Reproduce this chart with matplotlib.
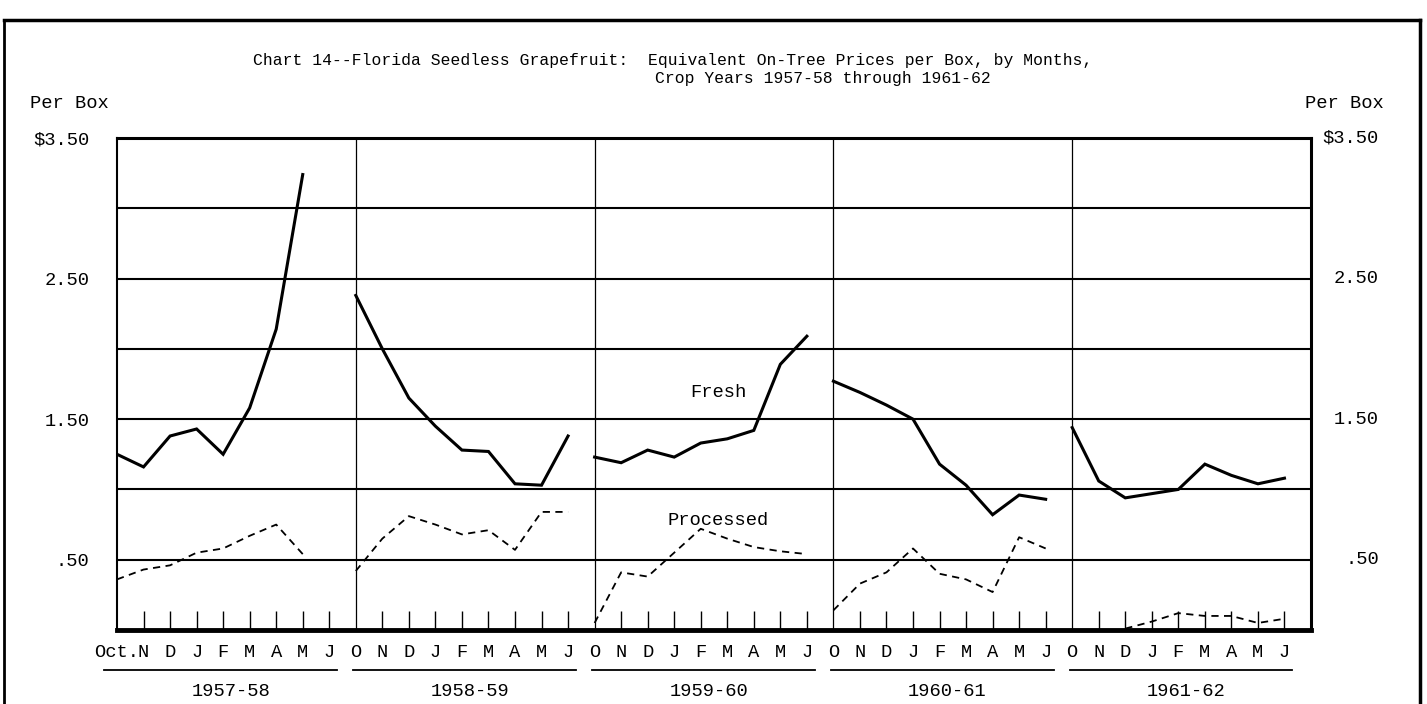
import numpy as np
import matplotlib
matplotlib.use("Agg")
import matplotlib.pyplot as plt
from matplotlib.lines import Line2D

# ==============================
# DATA
# ==============================

crop_years = ["1957-58", "1958-59", "1959-60", "1960-61", "1961-62"]

months = ["O", "N", "D", "J", "F", "M", "A", "M", "J"]

nan = np.nan

# Fresh, dollars per box, Oct..Jun
fresh_5758 = [1.25, 1.16, 1.38, 1.43, 1.25, 1.58, 2.14, 3.24, nan]
fresh_5859 = [2.38, 2.00, 1.65, 1.45, 1.28, 1.27, 1.04, 1.03, 1.38]
fresh_5960 = [1.23, 1.19, 1.28, 1.23, 1.33, 1.36, 1.42, 1.89, 2.09]
fresh_6061 = [1.77, 1.69, 1.60, 1.50, 1.18, 1.03, 0.82, 0.96, 0.93]
fresh_6162 = [1.44, 1.06, 0.94, 0.97, 1.00, 1.18, 1.10, 1.04, 1.08]

# Processed, dollars per box, Oct..Jun
processed_5758 = [0.36, 0.43, 0.46, 0.55, 0.58, 0.67, 0.75, 0.54, nan]
processed_5859 = [0.42, 0.65, 0.81, 0.75, 0.68, 0.71, 0.57, 0.84, 0.84]
processed_5960 = [0.05, 0.41, 0.38, 0.55, 0.72, 0.65, 0.59, 0.56, 0.54]
processed_6061 = [0.14, 0.33, 0.41, 0.58, 0.40, 0.36, 0.27, 0.66, 0.58]
processed_6162 = [nan, nan, 0.01, 0.06, 0.12, 0.10, 0.10, 0.05, 0.08]

fresh = [fresh_5758, fresh_5859, fresh_5960, fresh_6061, fresh_6162]
processed = [processed_5758, processed_5859, processed_5960,
             processed_6061, processed_6162]

y_ticks = [0.5, 1.5, 2.5, 3.5]
y_tick_labels = [".50", "1.50", "2.50", "$3.50"]

# ==============================
# FIGURE
# ==============================

FONT = "Liberation Mono"
plt.rcParams["font.family"] = [FONT, "DejaVu Sans Mono"]

fig = plt.figure(figsize=(14.27, 7.04), dpi=100)
ax = fig.add_axes([117 / 1427, 74 / 704, 1194 / 1427, 492 / 704])

n_months = len(months)
n_years = len(crop_years)

# ==============================
# LINES
# ==============================

for p in range(n_years):

    x = np.arange(n_months) + p * n_months

    ax.plot(x, fresh[p], color="black", lw=2.2,
            solid_joinstyle="miter", zorder=4)

    ax.plot(x, processed[p], color="black", lw=1.3,
            linestyle=(0, (4, 3)), zorder=4)

# panel dividers
for p in range(1, n_years):
    ax.axvline(p * n_months, color="black", lw=0.9, zorder=2)

# ==============================
# AXES
# ==============================

ax.set_xlim(0, n_years * n_months)
ax.set_ylim(0, 3.5)

ax.set_yticks(y_ticks)
ax.set_yticklabels(y_tick_labels, fontsize=13.5)
ax.set_yticks([1.0, 2.0, 3.0], minor=True)

ax.grid(axis="y", which="both", color="black", lw=1.5, zorder=1)
ax.grid(axis="x", visible=False)

ax.tick_params(axis="y", which="both", length=0, pad=20)

# right-hand price labels, right aligned near the outer edge
y_trans = ax.get_yaxis_transform()
for val, lbl in zip(y_ticks, y_tick_labels):
    ax.text(1 + 68 / 1194, val, lbl, transform=y_trans,
            ha="right", va="center", fontsize=13.5)

tick_x = [p * n_months + m for p in range(n_years) for m in range(n_months)]
tick_lbl = []
for p in range(n_years):
    for m in range(n_months):
        if p == 0 and m == 0:
            tick_lbl.append("Oct.")
        else:
            tick_lbl.append(months[m])

ax.set_xticks(tick_x)
ax.set_xticklabels(tick_lbl, fontsize=13.5)
ax.tick_params(axis="x", direction="in", length=14, width=1.0,
               pad=10, colors="black")

for t in ax.xaxis.get_major_ticks():
    if t.get_loc() % n_months == 0:
        t.tick1line.set_visible(False)

ax.spines["bottom"].set_linewidth(3.5)
ax.spines["top"].set_linewidth(2.2)
ax.spines["right"].set_linewidth(2.2)
ax.spines["left"].set_linewidth(1.5)

# ==============================
# YEAR LABELS
# ==============================

trans = ax.get_xaxis_transform()

for p in range(n_years):

    x0 = p * n_months - (0.5 if p == 0 else 0.1)
    x1 = p * n_months + n_months - 1 + 0.3

    ax.add_line(Line2D([x0, x1], [-0.081, -0.081], transform=trans,
                       color="black", lw=1.3, clip_on=False))

    ax.text(p * n_months + 4.3, -0.126, crop_years[p],
            transform=trans, ha="center", va="center", fontsize=13.5)

# ==============================
# SERIES LABELS
# ==============================

ax.text(22.65, 1.69, "Fresh", ha="center", va="center",
        fontsize=13.5, zorder=5)

ax.text(22.65, 0.78, "Processed", ha="center", va="center",
        fontsize=13.5, zorder=5)

# ==============================
# TITLE AND UNITS
# ==============================

fig.text(253 / 1427, 1 - 60 / 704,
         "Chart 14--Florida Seedless Grapefruit:  "
         "Equivalent On-Tree Prices per Box, by Months,",
         ha="left", va="center", fontsize=11.8)

fig.text(655 / 1427, 1 - 78 / 704,
         "Crop Years 1957-58 through 1961-62",
         ha="left", va="center", fontsize=11.8)

fig.text(30 / 1427, 1 - 103 / 704, "Per Box",
         ha="left", va="center", fontsize=13.5)

fig.text(1384 / 1427, 1 - 103 / 704, "Per Box",
         ha="right", va="center", fontsize=13.5)

# ==============================
# OUTER BORDER
# ==============================

top = 1 - 20 / 704
left = 4 / 1427
right = 1420 / 1427

fig.add_artist(Line2D([left, right], [top, top], color="black", lw=2.5))
fig.add_artist(Line2D([left, left], [0, top], color="black", lw=2.0))
fig.add_artist(Line2D([right, right], [0, top], color="black", lw=2.5))

# ==============================
# SAVE
# ==============================

fig.savefig("out.png", dpi=100, facecolor="white")
plt.close(fig)
